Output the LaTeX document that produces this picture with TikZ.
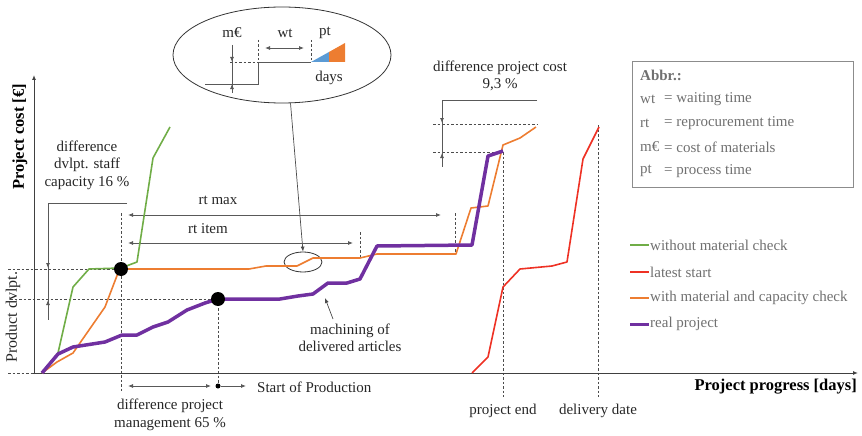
\documentclass[tikz,border=0pt]{standalone}
\usepackage{fontspec}
\setmainfont{Liberation Serif}
\usetikzlibrary{arrows.meta,shapes.geometric}
\definecolor{cgreen}{HTML}{70AD47}
\definecolor{corange}{HTML}{ED7D31}
\definecolor{cred}{HTML}{EE3124}
\definecolor{cpurple}{HTML}{7030A0}
\definecolor{cblue}{HTML}{5B9BD5}
\definecolor{cgray}{HTML}{707070}
\begin{document}
\begin{tikzpicture}[x=1pt,y=-1pt,font=\fontsize{15}{17.5}\selectfont,
  txt/.style={inner sep=0pt,align=center,text=black!85},
  gtxt/.style={inner sep=0pt,text=cgray,anchor=west},
  dline/.style={draw=black!70,line width=0.7pt,dash pattern=on 2.5pt off 2pt},
  aline/.style={draw=black!65,line width=0.8pt},
  tip/.style={-{Latex[length=5pt,width=4pt]}},
  dtip/.style={{Latex[length=5pt,width=4pt]}-{Latex[length=5pt,width=4pt]}},
  curve/.style={line width=1.6pt,line join=round},
  bigdot/.style={circle,fill=black,minimum size=14pt,inner sep=0pt},
  smalldot/.style={circle,fill=black,minimum size=5pt,inner sep=0pt},
  ell/.style={draw=black!80,line width=0.8pt,ellipse,inner sep=0pt}]
\useasboundingbox (0,0) rectangle (862,436);

% ---------- big magnifier ellipse ----------
\node[ell,minimum width=218pt,minimum height=96pt] (bigell) at (282,55) {};
\fill[cblue] (311,62) -- (329,62) -- (329,52) -- cycle;
\fill[corange] (329,62) -- (345,62) -- (345,43) -- (329,52) -- cycle;
\coordinate (s0) at (205,84);
\coordinate (s1) at (258,84);
\coordinate (s2) at (258,62);
\coordinate (s3) at (311,62);
\draw[aline] (s0) -- (s1) -- (s2) -- (s3);
\draw[dline] (230,62) -- (s2);
\draw[dline] (258,40) -- (s2);
\draw[dline] (311,40) -- (s3);
\draw[aline] (232,45) -- (232,93);
\draw[aline,tip] (232,50) -- (232,62);
\draw[aline,tip] (232,93) -- (232,84);
\draw[aline,dtip] (265,48) -- (304,48);
\node[txt] (lme) at (232,33) {m€};
\node[txt] (lwt) at (285,33) {wt};
\node[txt] (lpt) at (325,33) {pt};
\node[txt] (ldays) at (329,78) {days};

% small ellipse + connector
\node[ell,minimum width=38pt,minimum height=20pt] (smallell) at (303,262) {};
\draw[draw=black!70,line width=0.7pt,tip] (bigell.-80) -- (smallell.north);

% ---------- auxiliary dashed lines ----------
\draw[dline] (8,269) -- (121,269);
\draw[dline] (10,299) -- (218,299);
\draw[dline] (8,373) -- (105,373);
\draw[dline] (121,213) -- (121,392);
\draw[dline] (218,299) -- (218,386);
\draw[dline] (455,213) -- (455,253);
\draw[dline] (360,232) -- (360,257);
\draw[dline] (433,124) -- (537,124);
\draw[dline] (433,152) -- (503,152);
\draw[dline] (503,152) -- (503,397);
\draw[dline] (598,125) -- (598,397);

% ---------- axes ----------
\draw[draw=black!75,line width=1pt,tip] (34,374) -- (34,75);
\draw[draw=black!75,line width=1pt,tip] (33,373) -- (858,373);
\node[inner sep=0pt,rotate=90,font=\fontsize{16.5}{18}\selectfont\bfseries] (ylab) at (20,137) {Project cost [€]};
\node[inner sep=0pt,rotate=90,text=black!85,font=\fontsize{16}{18}\selectfont] (ylab2) at (13,317) {Product dvlpt.};
\node[inner sep=0pt,anchor=east,font=\fontsize{16.5}{18}\selectfont\bfseries] (xlab) at (857,387) {Project progress [days]};

% ---------- brackets ----------
\draw[aline] (127,203) -- (48,203) -- (48,320);
\draw[aline,tip] (48,250) -- (48,268);
\draw[aline,tip] (48,318) -- (48,300);
\node[txt] (dstaff) at (87,165) {difference\\dvlpt. staff\\capacity 16 \%};

\draw[aline] (537,100) -- (442,100) -- (442,167);
\draw[aline,tip] (442,110) -- (442,123);
\draw[aline,tip] (442,166) -- (442,153);
\node[txt] (dcost) at (500,76) {difference project cost\\9,3 \%};

% rt arrows
\draw[aline,dtip] (128,215) -- (441,215);
\node[txt] (rtmax) at (218,200) {rt max};
\draw[aline,dtip] (128,243) -- (353,243);
\node[txt] (rtitem) at (208,229) {rt item};

% ---------- curves ----------
\draw[curve,cgreen] (42,373) -- (58,353) -- (73,287) -- (89,269) -- (121,268) -- (137,262) -- (153,158) -- (170,127);
\draw[curve,corange] (42,373) -- (57,362) -- (73,353) -- (105,307) -- (118,273) -- (121,269) -- (249,269) -- (266,266) -- (297,266) -- (313,258) -- (360,258) -- (377,254) -- (456,254) -- (471,208) -- (488,206) -- (503,145) -- (520,138) -- (536,127);
\draw[curve,cred] (472,373) -- (488,357) -- (503,287) -- (520,269) -- (552,266) -- (567,262) -- (583,159) -- (599,127);
\draw[curve,cpurple,line width=3.5pt] (42,373) -- (58,354) -- (73,347) -- (105,342) -- (122,335) -- (137,335) -- (153,327) -- (168,322) -- (187,310) -- (205,303) -- (218,299) -- (280,299) -- (298,296) -- (313,294) -- (328,283) -- (347,283) -- (360,279) -- (377,246) -- (472,245) -- (488,156) -- (503,151);

% dots
\node[bigdot] (dotA) at (121,269) {};
\node[bigdot] (dotB) at (218,299) {};
\node[smalldot] (dotC) at (218,386) {};

% ---------- bottom annotations ----------
\draw[aline,dtip] (128,386) -- (211,386);
\draw[aline,tip] (dotC) -- (246,386);
\node[inner sep=0pt,anchor=west,text=black!85] (sop) at (257,387) {Start of Production};
\node[txt] (dpm) at (170,415) {difference project\\management 65 \%};
\node[txt] (pend) at (503,411) {project end};
\node[txt] (ddate) at (598,411) {delivery date};

\node[txt] (mach) at (350,338) {machining of\\delivered articles};
\coordinate (machtip) at (325,298);
\draw[draw=black!70,line width=0.7pt,tip] (333,319) -- (machtip);

% ---------- legend ----------
\draw[curve,cgreen] (630,245) -- (649,245);
\node[gtxt] (lg1) at (650,245) {without material check};
\draw[curve,cred] (630,272) -- (649,272);
\node[gtxt] (lg2) at (650,272) {latest start};
\draw[curve,corange] (630,298) -- (649,298);
\node[gtxt] (lg3) at (650,298) {with material and capacity check};
\draw[curve,cpurple,line width=3pt] (630,324) -- (649,324);
\node[gtxt] (lg4) at (650,324) {real project};

% ---------- abbreviation box ----------
\node[draw=black!45,line width=1pt,minimum width=221pt,minimum height=125pt,inner sep=0pt] (abbr) at (742.5,124.5) {};
\node[gtxt,font=\fontsize{15}{17.5}\selectfont\bfseries] (ab0) at (640,75) {Abbr.:};
\node[gtxt] (ab1) at (640,99) {wt};
\node[gtxt] (ab1b) at (664,99) {= waiting time};
\node[gtxt] (ab2) at (640,123) {rt};
\node[gtxt] (ab2b) at (664,123) {= reprocurement time};
\node[gtxt] (ab3) at (640,147) {m€};
\node[gtxt] (ab3b) at (664,147) {= cost of materials};
\node[gtxt] (ab4) at (640,171) {pt};
\node[gtxt] (ab4b) at (664,171) {= process time};
\end{tikzpicture}
\end{document}
